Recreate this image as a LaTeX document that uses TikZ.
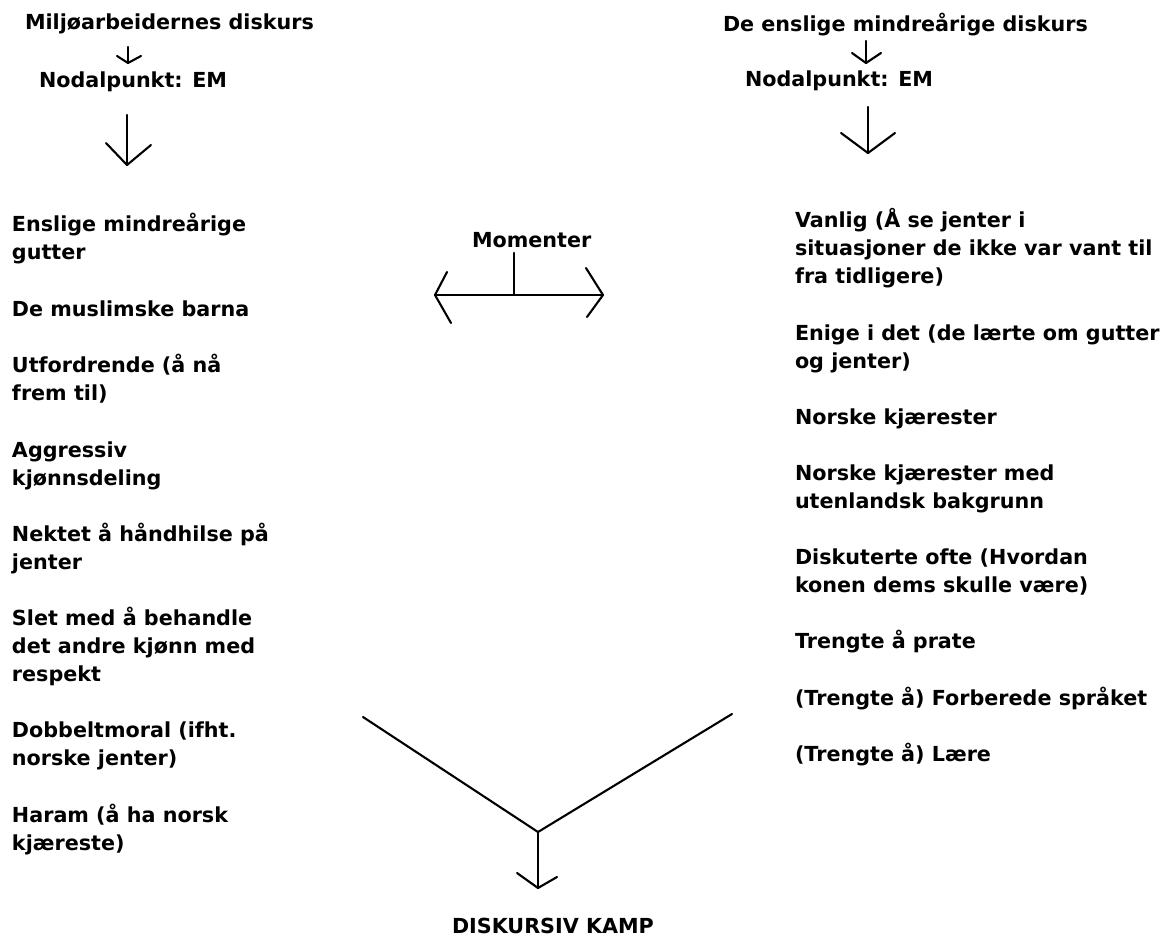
\documentclass[tikz,border=0pt]{standalone}
\usepackage{fontspec}
\setmainfont{DejaVu Sans}
\begin{document}
\begin{tikzpicture}[x=1pt,y=-1pt,
  txt/.style={anchor=base west, inner sep=0pt, outer sep=0pt, font=\bfseries\fontsize{20.7}{28.1}\selectfont},
  pen/.style={line width=2.1pt, line cap=round, line join=round}]
\useasboundingbox (0,0) rectangle (1167,939);
% headers
\node[txt] (hl) at (25,30) {Miljøarbeidernes diskurs};
\node[txt] (nl) at (39,88) {Nodalpunkt: EM};
\node[txt] (hr) at (723,32) {De enslige mindreårige diskurs};
\node[txt] (nr) at (745,87) {Nodalpunkt: EM};
\node[txt] (mom) at (472,247) {Momenter};
\node[txt] (kamp) at (452,933) {DISKURSIV KAMP};
% left list
\node[txt] (l1) at (12,231) {\vtop{\hbox{Enslige mindreårige}\hbox{gutter}}};
\node[txt] (l2) at (12,316) {De muslimske barna};
\node[txt] (l3) at (12,372) {\vtop{\hbox{Utfordrende (å nå}\hbox{frem til)}}};
\node[txt] (l4) at (12,457) {\vtop{\hbox{Aggressiv}\hbox{kjønnsdeling}}};
\node[txt] (l5) at (12,541) {\vtop{\hbox{Nektet å håndhilse på}\hbox{jenter}}};
\node[txt] (l6) at (12,625) {\vtop{\hbox{Slet med å behandle}\hbox{det andre kjønn med}\hbox{respekt}}};
\node[txt] (l7) at (12,737) {\vtop{\hbox{Dobbeltmoral (ifht.}\hbox{norske jenter)}}};
\node[txt] (l8) at (12,822) {\vtop{\hbox{Haram (å ha norsk}\hbox{kjæreste)}}};
% right list
\node[txt] (r1) at (795,227) {\vtop{\hbox{Vanlig (Å se jenter i}\hbox{situasjoner de ikke var vant til}\hbox{fra tidligere)}}};
\node[txt] (r2) at (795,340) {\vtop{\hbox{Enige i det (de lærte om gutter}\hbox{og jenter)}}};
\node[txt] (r3) at (795,424) {Norske kjærester};
\node[txt] (r4) at (795,480) {\vtop{\hbox{Norske kjærester med}\hbox{utenlandsk bakgrunn}}};
\node[txt] (r5) at (795,564) {\vtop{\hbox{Diskuterte ofte (Hvordan}\hbox{konen dems skulle være)}}};
\node[txt] (r6) at (795,648) {Trengte å prate};
\node[txt] (r7) at (795,705) {(Trengte å) Forberede språket};
\node[txt] (r8) at (795,761) {(Trengte å) Lære};
% arrow geometry
\coordinate (ls0) at (128,47); \coordinate (ls1) at (128,63);
\coordinate (lb0) at (127,115); \coordinate (lb1) at (127,165);
\coordinate (rs0) at (866,41); \coordinate (rs1) at (866,63);
\coordinate (rb0) at (868,107); \coordinate (rb1) at (868,153);
\coordinate (mt) at (514,253); \coordinate (mc) at (514,295);
\coordinate (ml) at (435,295); \coordinate (mr) at (603,295);
\coordinate (vl) at (363,717); \coordinate (vc) at (538,832); \coordinate (vr) at (732,714);
\coordinate (vd) at (538,888);
% left small arrow
\draw[pen] (ls0) -- (ls1);
\draw[pen] (117,56) -- (ls1) -- (141,56);
% left big arrow
\draw[pen] (lb0) -- (lb1);
\draw[pen] (106,143) -- (lb1) -- (151,145);
% right small arrow
\draw[pen] (rs0) -- (rs1);
\draw[pen] (852,53) -- (rs1) -- (881,53);
% right big arrow
\draw[pen] (rb0) -- (rb1);
\draw[pen] (841,133) -- (rb1) -- (895,133);
% momenter double arrow
\draw[pen] (mt) -- (mc);
\draw[pen] (ml) -- (mr);
\draw[pen] (447,272) -- (ml) -- (451,323);
\draw[pen] (586,268) -- (mr) -- (587,317);
% bottom V
\draw[pen] (vl) -- (vc) -- (vr);
\draw[pen] (vc) -- (vd);
\draw[pen] (517,873) -- (vd) -- (557,877);
\end{tikzpicture}
\end{document}
